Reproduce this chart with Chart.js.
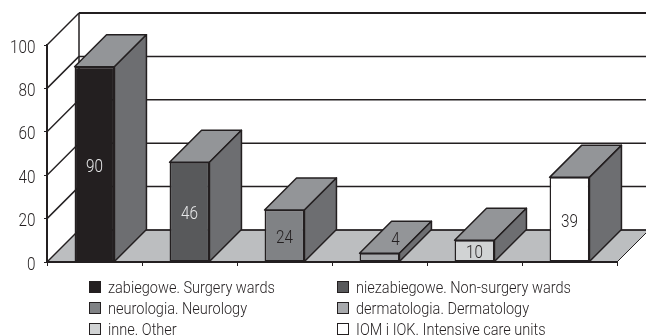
<!DOCTYPE html>
<html>
<head>
<meta charset="utf-8">
<script src="https://cdn.jsdelivr.net/npm/chart.js@4"></script>
<style>
  html, body { margin: 0; padding: 0; background: #fff; }
  #wrap { position: relative; width: 646px; height: 336px; overflow: hidden; }
  #legend { position: absolute; left: 0; top: 0; }
  .item {
    position: absolute; white-space: nowrap; height: 20px; line-height: 20px;
    font: 300 17px Roboto, "Liberation Sans", sans-serif; color: #231f20;
  }
  .swatch {
    position: absolute; left: 0; top: 4px; width: 10px; height: 10px;
    border: 1px solid #231f20;
  }
  .item span { position: absolute; left: 19px; top: 0; transform: scaleX(0.855); transform-origin: left center; }
</style>
</head>
<body>
<div id="wrap">
  <canvas id="chart" width="646" height="336"></canvas>
  <div id="legend"></div>
</div>
<script>
const categories = [
  'zabiegowe. Surgery wards',
  'niezabiegowe. Non-surgery wards',
  'neurologia. Neurology',
  'dermatologia. Dermatology',
  'inne. Other',
  'IOM i IOK. Intensive care units',
];
const values = [90, 46, 24, 4, 10, 39];
const barColors = ['#231f20', '#58595b', '#808285', '#a7a9ac', '#d1d3d4', '#ffffff'];
const labelColors = ['#e6e7e8', '#e6e7e8', '#231f20', '#231f20', '#231f20', '#231f20'];
const yTicks = [0, 20, 40, 60, 80, 100];

const DEPTH = 32;
const INK = '#231f20';
const FONT = 'Roboto, "Liberation Sans", sans-serif';
const NARROW = 0.85;

function line(ctx, x1, y1, x2, y2, width) {
  ctx.lineWidth = width;
  ctx.beginPath();
  ctx.moveTo(x1, y1);
  ctx.lineTo(x2, y2);
  ctx.stroke();
}

function poly(ctx, points, fill) {
  ctx.beginPath();
  points.forEach(([x, y], i) => (i ? ctx.lineTo(x, y) : ctx.moveTo(x, y)));
  ctx.closePath();
  ctx.fillStyle = fill;
  ctx.fill();
  ctx.stroke();
}

const roomPlugin = {
  id: 'room',
  // No condensed face is installed, so the y tick labels are squeezed about their right edge
  afterLayout(chart) {
    const y = chart.scales.y;
    if (y.narrowed) return;
    y.narrowed = true;
    const drawLabels = y.drawLabels;
    y.drawLabels = function (area) {
      const ctx = this.ctx;
      const anchor = this.right - this.options.ticks.padding;
      ctx.save();
      ctx.translate(anchor, 3);
      ctx.scale(NARROW, 1);
      ctx.translate(-anchor, 0);
      drawLabels.call(this, area);
      ctx.restore();
    };
  },
  // Floor, back wall and the slanted gridlines behind the bars
  beforeDraw(chart) {
    const { ctx, chartArea: a, scales: { y } } = chart;
    ctx.save();
    ctx.strokeStyle = INK;
    ctx.lineWidth = 1;
    poly(ctx, [
      [a.left, a.bottom],
      [a.left + DEPTH, a.bottom - DEPTH],
      [a.right + DEPTH, a.bottom - DEPTH],
      [a.right, a.bottom],
    ], '#bcbec0');
    for (const t of yTicks) {
      const py = y.getPixelForValue(t);
      const top = t === 100;
      line(ctx, a.left, py, a.left + DEPTH, py - DEPTH, 1.5);
      line(ctx, a.left + DEPTH, py - DEPTH, a.right + DEPTH, py - DEPTH, top ? 2 : 1.5);
    }
    line(ctx, a.left + DEPTH, a.top - DEPTH, a.left + DEPTH, a.bottom - DEPTH, 1.5);
    ctx.restore();
  },
  // Top and side faces of each bar
  beforeDatasetsDraw(chart) {
    const { ctx } = chart;
    ctx.save();
    ctx.strokeStyle = INK;
    ctx.lineWidth = 1.5;
    ctx.lineJoin = 'round';
    for (const bar of chart.getDatasetMeta(0).data) {
      const l = bar.x - bar.width / 2;
      const r = bar.x + bar.width / 2;
      poly(ctx, [[l, bar.y], [l + DEPTH, bar.y - DEPTH], [r + DEPTH, bar.y - DEPTH], [r, bar.y]], '#939598');
      poly(ctx, [[r, bar.y], [r + DEPTH, bar.y - DEPTH], [r + DEPTH, bar.base - DEPTH], [r, bar.base]], '#6d6e71');
    }
    ctx.restore();
  },
  // Value labels on the front faces; a bar too short for its label gets it on the top face
  afterDatasetsDraw(chart) {
    const { ctx } = chart;
    ctx.save();
    ctx.font = '300 18px ' + FONT;
    ctx.textAlign = 'center';
    ctx.textBaseline = 'middle';
    chart.getDatasetMeta(0).data.forEach((bar, i) => {
      const short = bar.base - bar.y < 20;
      const cx = bar.x + (short ? DEPTH / 2 : 0);
      const cy = (short ? bar.y - DEPTH / 2 : (bar.y + bar.base) / 2) + 3;
      ctx.save();
      ctx.translate(cx, cy);
      ctx.scale(NARROW, 1);
      ctx.fillStyle = labelColors[i];
      ctx.fillText(String(values[i]), 0, 0);
      ctx.restore();
    });
    ctx.restore();
  },
};

new Chart(document.getElementById('chart'), {
  type: 'bar',
  data: {
    labels: categories,
    datasets: [{
      data: values,
      backgroundColor: barColors,
      borderColor: INK,
      borderWidth: 1.5,
      borderSkipped: false,
      categoryPercentage: 1,
      barPercentage: 0.42,
    }],
  },
  plugins: [roomPlugin],
  options: {
    responsive: false,
    animation: false,
    layout: { padding: { top: 45, right: 29, left: 0, bottom: 0 } },
    plugins: { legend: { display: false }, tooltip: { enabled: false } },
    scales: {
      x: {
        afterFit(scale) { scale.height = 74; },
        ticks: { display: false },
        grid: { drawOnChartArea: false, tickLength: 4, color: INK, lineWidth: 1 },
        border: { color: INK, width: 2 },
      },
      y: {
        min: 0,
        max: 100,
        afterFit(scale) { scale.width = 47; },
        afterBuildTicks(scale) { scale.ticks = yTicks.map((value) => ({ value })); },
        ticks: { color: INK, font: { family: FONT, size: 18, weight: 300 }, padding: 9 },
        grid: { drawOnChartArea: false, tickLength: 3, color: INK, lineWidth: 1 },
        border: { color: INK, width: 2 },
      },
    },
  },
});

// Two-column legend, filled row by row
const legendEl = document.getElementById('legend');
categories.forEach((name, i) => {
  const col = i % 2;
  const row = Math.floor(i / 2);
  const item = document.createElement('div');
  item.className = 'item';
  item.style.left = (col ? 337 : 89) + 'px';
  item.style.top = 277 + row * 21 + 'px';
  item.innerHTML = `<div class="swatch" style="background:${barColors[i]}"></div><span>${name}</span>`;
  legendEl.appendChild(item);
});
</script>
</body>
</html>
